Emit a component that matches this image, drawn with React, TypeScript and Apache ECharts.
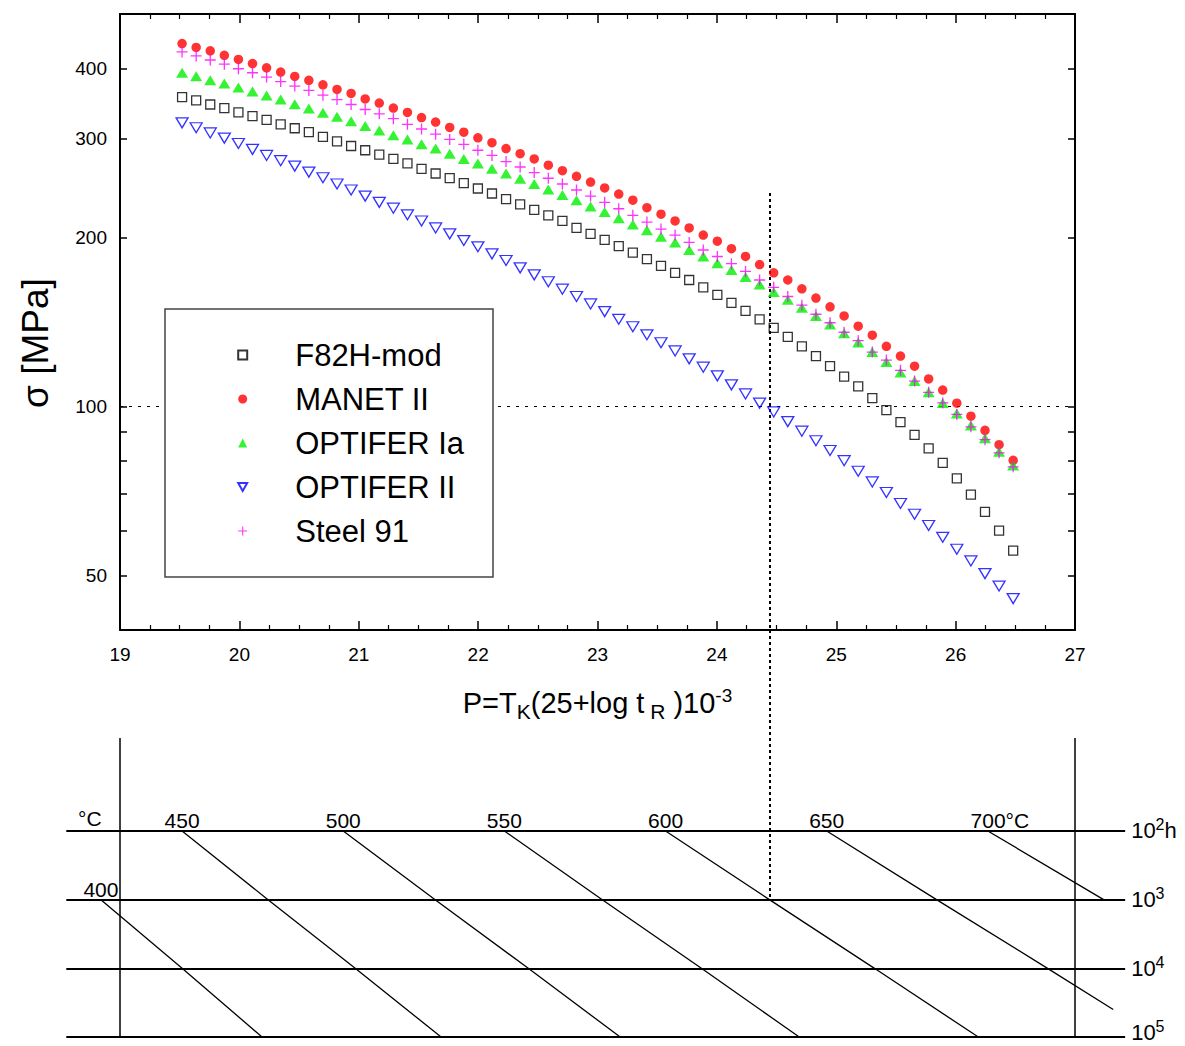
import React, { useEffect, useRef } from "react";
import * as echarts from "echarts";

// Larson-Miller parameter values of the plotted points
const P_VALUES = [
  19.52, 19.638, 19.756, 19.874, 19.992, 20.11, 20.228, 20.346, 20.464, 20.582,
  20.7, 20.818, 20.936, 21.054, 21.172, 21.29, 21.408, 21.526, 21.644, 21.762,
  21.88, 21.998, 22.116, 22.234, 22.352, 22.47, 22.588, 22.706, 22.824, 22.942,
  23.06, 23.178, 23.296, 23.414, 23.532, 23.65, 23.768, 23.886, 24.004, 24.122,
  24.24, 24.358, 24.476, 24.594, 24.712, 24.83, 24.948, 25.066, 25.184, 25.302,
  25.42, 25.538, 25.656, 25.774, 25.892, 26.01, 26.128, 26.246, 26.364, 26.482,
];

const F82H_MOD = [
  355.5, 351, 345, 340, 334, 329, 324, 318, 313, 308,
  302, 296.5, 291, 286, 281, 276, 271, 265, 260, 255,
  250, 244.5, 239.5, 234, 229, 224, 219, 214, 208, 203,
  198, 193, 188, 183, 178, 173, 168, 163, 158, 153,
  148, 143, 138, 133, 128, 123, 118, 113, 108.6, 103.5,
  98.5, 93.8, 89.0, 84.2, 79.4, 74.5, 69.7, 64.9, 60.1, 55.4,
];

const MANET_II = [
  443, 436, 430, 422, 415, 408, 401, 394, 387, 381,
  374, 367, 361, 353, 347, 340, 334, 327, 321, 314,
  308, 301, 295, 288, 282, 276, 269, 263, 257, 251,
  245, 239, 233, 226, 220, 214, 208, 202, 197, 191,
  185, 179, 173, 168, 162, 156, 150.5, 145, 139, 134,
  128, 123, 118, 112, 107, 101.4, 96.1, 90.7, 85.5, 80.2,
];

const OPTIFER_IA = [
  393, 387.5, 381, 376, 370, 364, 358, 352, 345.5, 339.5,
  333.6, 328, 322, 316, 310, 304, 299, 293, 288, 282,
  276, 271, 265, 260, 254.5, 249, 243.5, 238, 233, 227,
  222, 216.5, 211, 206, 200.6, 196, 190, 185, 180, 175,
  170, 165, 160, 155, 150, 145, 140, 135, 130, 125,
  120, 115, 111, 106, 101.5, 97.2, 92.5, 87.8, 83.1, 78.5,
];

const OPTIFER_II = [
  320, 313.6, 307, 300.6, 294, 287, 280, 274, 268, 261.5,
  255.5, 249, 243, 237, 231, 225.5, 219.5, 214, 208, 203,
  197.5, 192.5, 187, 182, 176.6, 171.6, 166.8, 161.8, 157, 152.3,
  147.6, 143, 138.7, 134.2, 129.9, 125.6, 121.6, 117.5, 113.4, 109.3,
  105.3, 101.4, 97.8, 94.0, 90.4, 86.9, 83.5, 80.1, 76.7, 73.4,
  70.3, 67.2, 64.3, 61.4, 58.5, 55.7, 53.1, 50.4, 47.9, 45.5,
];

const STEEL_91 = [
  428, 421, 414, 407, 399.5, 393, 386, 379, 372, 365.5,
  358.5, 352, 345, 338, 332, 325.5, 318, 312, 305.5, 299,
  293, 286, 280, 273, 267, 261, 255, 249, 243, 237,
  231, 225, 219, 213, 207, 202, 196, 190, 185, 179.6,
  174, 168, 163, 157, 151.5, 146, 141, 135.6, 131, 125,
  121, 116, 111, 106, 101.5, 96.8, 92.0, 87.3, 82.7, 78.1,
];

const SERIES_NAMES = ["F82H-mod", "MANET II", "OPTIFER Ia", "OPTIFER II", "Steel 91"];

const X_MIN = 19;
const X_MAX = 27;
const Y_MIN = 40;
const Y_MAX = 500;
const Y_TICKS = [50, 60, 70, 80, 90, 100, 200, 300, 400];
const Y_LABELS = [50, 100, 200, 300, 400];
const REF_SIGMA = 100;
const REF_P = 24.44;
const REF_SIGMA_TOP = 240;

// Nomogram: rupture time (log10 h) levels and temperature lines
const LOG_T_LEVELS = [2, 3, 4, 5];
const LOG_T_LABELS = ["{n|10}{s|2}{n|h}", "{n|10}{s|3}", "{n|10}{s|4}", "{n|10}{s|5}"];
const NOMO_TEMPS = ["400", "450", "500", "550", "600", "650", "700°C"];
const NOMO_LOGT = [
  [3, 4, 5],
  [2, 3, 4, 5],
  [2, 3, 4, 5],
  [2, 3, 4, 5],
  [2, 3, 4, 5],
  [2, 3, 4, 4.6],
  [2, 3],
];
const NOMO_P = [
  [18.84, 19.52, 20.19],
  [19.52, 20.24, 20.97, 21.69],
  [20.87, 21.64, 22.42, 23.19],
  [22.22, 23.04, 23.87, 24.69],
  [23.57, 24.44, 25.32, 26.19],
  [24.92, 25.84, 26.77, 27.32],
  [26.27, 27.24],
];
const NOMO_X_MIN = 18.55;
const NOMO_X_MAX = 27.42;
const NOMO_T_MIN = -0.927;
const NOMO_T_MAX = 5;
const NOMO_FRAME_TOP = 0.646;
const NOMO_REF_T = 3;

const FONT = "'Liberation Sans', Arial, Helvetica, sans-serif";

export default function App() {
  const ref = useRef<HTMLDivElement>(null);

  useEffect(() => {
    const chart = echarts.init(ref.current!, null, { renderer: "svg" });
    const pts = (ys: number[]) => P_VALUES.map((x, i) => [x, ys[i]]);
    const plus = "path://M4.4,0H5.6V4.4H10V5.6H5.6V10H4.4V5.6H0V4.4H4.4Z";
    const downTri = "path://M0,0L10,0L5,9Z";
    const hollow = "rgba(255,255,255,0)";

    const mainSeries: any[] = [
      {
        name: SERIES_NAMES[0],
        type: "scatter",
        symbol: "rect",
        symbolSize: 9,
        itemStyle: { color: hollow, borderColor: "#000", borderWidth: 1.3 },
        data: pts(F82H_MOD),
      },
      {
        name: SERIES_NAMES[1],
        type: "scatter",
        symbol: "circle",
        symbolSize: 9.5,
        itemStyle: { color: "#ff0000" },
        data: pts(MANET_II),
        markLine: {
          silent: true,
          symbol: "none",
          z: 1,
          label: { show: false },
          data: [
            [
              { coord: [X_MIN, REF_SIGMA], lineStyle: { type: [3, 6], width: 1, color: "#000" } },
              { coord: [X_MAX, REF_SIGMA] },
            ],
            [
              { coord: [REF_P, REF_SIGMA_TOP], lineStyle: { type: [3, 3], width: 2, color: "#000" } },
              { coord: [REF_P, Y_MIN] },
            ],
          ],
        },
      },
      {
        name: SERIES_NAMES[2],
        type: "scatter",
        symbol: "triangle",
        symbolSize: [12, 10],
        itemStyle: { color: "#00f000" },
        data: pts(OPTIFER_IA),
      },
      {
        name: SERIES_NAMES[3],
        type: "scatter",
        symbol: downTri,
        symbolSize: [12, 10],
        itemStyle: { color: hollow, borderColor: "#0000ff", borderWidth: 1.3 },
        data: pts(OPTIFER_II),
      },
      {
        name: SERIES_NAMES[4],
        type: "scatter",
        symbol: plus,
        symbolSize: 11,
        itemStyle: { color: "#ff00ff" },
        data: pts(STEEL_91),
      },
    ];

    const nomoSeries: any[] = NOMO_P.map((ps, k) => ({
      type: "line",
      xAxisIndex: 2,
      yAxisIndex: 2,
      silent: true,
      symbol: "circle",
      symbolSize: 1,
      showSymbol: true,
      itemStyle: { color: "rgba(0,0,0,0)" },
      lineStyle: { color: "#000", width: 1.3 },
      data: ps.map((p, i) =>
        i === 0
          ? {
              value: [p, NOMO_LOGT[k][i]],
              label: {
                show: true,
                position: "top",
                distance: -1,
                offset: [NOMO_TEMPS[k].length > 3 ? 12 : 0, 0],
                formatter: NOMO_TEMPS[k],
                fontSize: 21,
                fontFamily: FONT,
                color: "#000",
              },
            }
          : [p, NOMO_LOGT[k][i]]
      ),
      markLine:
        k === 0
          ? {
              silent: true,
              symbol: "none",
              label: {
                show: true,
                position: "end",
                distance: 6,
                color: "#000",
                rich: {
                  n: { fontSize: 22, fontFamily: FONT, color: "#000" },
                  s: { fontSize: 16, fontFamily: FONT, color: "#000", padding: [0, 0, 12, 0] },
                },
              },
              data: [
                ...LOG_T_LEVELS.map((t, i) => ({
                  yAxis: t,
                  lineStyle: { color: "#000", width: 2, type: "solid" },
                  label: {
                    formatter: LOG_T_LABELS[i],
                    offset: i === LOG_T_LEVELS.length - 1 ? [0, -5] : [0, 0],
                  },
                })),
                [
                  { coord: [X_MIN, NOMO_FRAME_TOP], lineStyle: { color: "#000", width: 1.5, type: "solid" }, label: { show: false } },
                  { coord: [X_MIN, NOMO_T_MAX] },
                ],
                [
                  { coord: [X_MAX, NOMO_FRAME_TOP], lineStyle: { color: "#000", width: 1.5, type: "solid" }, label: { show: false } },
                  { coord: [X_MAX, NOMO_T_MAX] },
                ],
                [
                  { coord: [REF_P, NOMO_T_MIN], lineStyle: { color: "#000", width: 2, type: [3, 3] }, label: { show: false } },
                  { coord: [REF_P, NOMO_REF_T] },
                ],
              ],
            }
          : undefined,
    }));

    const option: any = {
      animation: false,
      backgroundColor: "#fff",
      textStyle: { fontFamily: FONT },
      grid: [
        { left: 120, top: 14, right: 110, bottom: 416 },
        { left: 66.28, right: 59.86, top: 630, bottom: 9 },
      ],
      legend: {
        data: [
          { name: SERIES_NAMES[0] },
          { name: SERIES_NAMES[1] },
          { name: SERIES_NAMES[2] },
          { name: SERIES_NAMES[3], icon: downTri },
          { name: SERIES_NAMES[4] },
        ],
        orient: "vertical",
        left: 165,
        top: 309,
        padding: [30.5, 29, 30.5, 72.2],
        backgroundColor: "#fff",
        borderColor: "#444",
        borderWidth: 1.5,
        itemWidth: 9,
        itemHeight: 9,
        itemGap: 13,
        selectedMode: false,
        z: 8,
        textStyle: {
          fontSize: 31,
          lineHeight: 31,
          color: "#000",
          fontFamily: FONT,
          padding: [0, 0, 0, 43],
        },
      },
      xAxis: [
        {
          type: "value",
          gridIndex: 0,
          position: "bottom",
          min: X_MIN,
          max: X_MAX,
          interval: 1,
          name: "{n|P=T}{sub|K}{n|(25+log t}{sub| R}{n| )10}{sup|-3}",
          nameLocation: "middle",
          nameGap: 54,
          nameTextStyle: {
            rich: {
              n: { fontSize: 29, fontFamily: FONT, color: "#000" },
              sub: { fontSize: 21, fontFamily: FONT, color: "#000", padding: [17, 0, 0, 0] },
              sup: { fontSize: 19, fontFamily: FONT, color: "#000", padding: [0, 0, 15, 0] },
            },
          },
          axisLine: { show: true, lineStyle: { color: "#000", width: 2 } },
          axisTick: { show: true, inside: true, length: 9, lineStyle: { color: "#000", width: 1.5 } },
          minorTick: { show: true, splitNumber: 4, length: 5, lineStyle: { color: "#000", width: 1.2 } },
          axisLabel: { fontSize: 19, color: "#000", margin: 15, fontFamily: FONT },
          splitLine: { show: false },
        },
        {
          type: "value",
          gridIndex: 0,
          position: "top",
          min: X_MIN,
          max: X_MAX,
          interval: 1,
          axisLine: { show: true, lineStyle: { color: "#000", width: 2 } },
          axisTick: { show: true, inside: true, length: 9, lineStyle: { color: "#000", width: 1.5 } },
          minorTick: { show: true, splitNumber: 4, length: 5, lineStyle: { color: "#000", width: 1.2 } },
          axisLabel: { show: false },
          splitLine: { show: false },
        },
        {
          type: "value",
          gridIndex: 1,
          min: NOMO_X_MIN,
          max: NOMO_X_MAX,
          show: false,
          splitLine: { show: false },
        },
      ],
      yAxis: [
        {
          type: "log",
          logBase: 10,
          gridIndex: 0,
          position: "left",
          min: Y_MIN,
          max: Y_MAX,
          name: "σ [MPa]",
          nameLocation: "middle",
          nameGap: 66,
          nameTextStyle: { fontSize: 37, color: "#000", fontFamily: FONT, padding: [0, 42, 0, 0] },
          axisLine: { show: true, lineStyle: { color: "#000", width: 2 } },
          axisTick: { show: true, inside: true, length: 7, customValues: Y_TICKS, lineStyle: { color: "#000", width: 1.5 } },
          axisLabel: { fontSize: 19, color: "#000", margin: 13, fontFamily: FONT, customValues: Y_LABELS },
          splitLine: { show: false },
          minorTick: { show: false },
        },
        {
          type: "log",
          logBase: 10,
          gridIndex: 0,
          position: "right",
          min: Y_MIN,
          max: Y_MAX,
          axisLine: { show: true, lineStyle: { color: "#000", width: 2 } },
          axisTick: { show: true, inside: true, length: 7, customValues: Y_TICKS, lineStyle: { color: "#000", width: 1.5 } },
          axisLabel: { show: false, customValues: Y_LABELS },
          splitLine: { show: false },
        },
        {
          type: "value",
          gridIndex: 1,
          min: NOMO_T_MIN,
          max: NOMO_T_MAX,
          inverse: true,
          show: false,
          splitLine: { show: false },
        },
      ],
      graphic: [
        {
          type: "text",
          x: 78,
          y: 829,
          style: { text: "°C", fontSize: 21, fontFamily: FONT, fill: "#000", verticalAlign: "bottom" },
          silent: true,
        },
      ],
      series: [...mainSeries, ...nomoSeries],
    };

    chart.setOption(option);
    return () => chart.dispose();
  }, []);

  return (
    <div
      ref={ref}
      style={{ position: "absolute", left: 0, top: 0, width: 1185, height: 1046, background: "#fff" }}
    />
  );
}
